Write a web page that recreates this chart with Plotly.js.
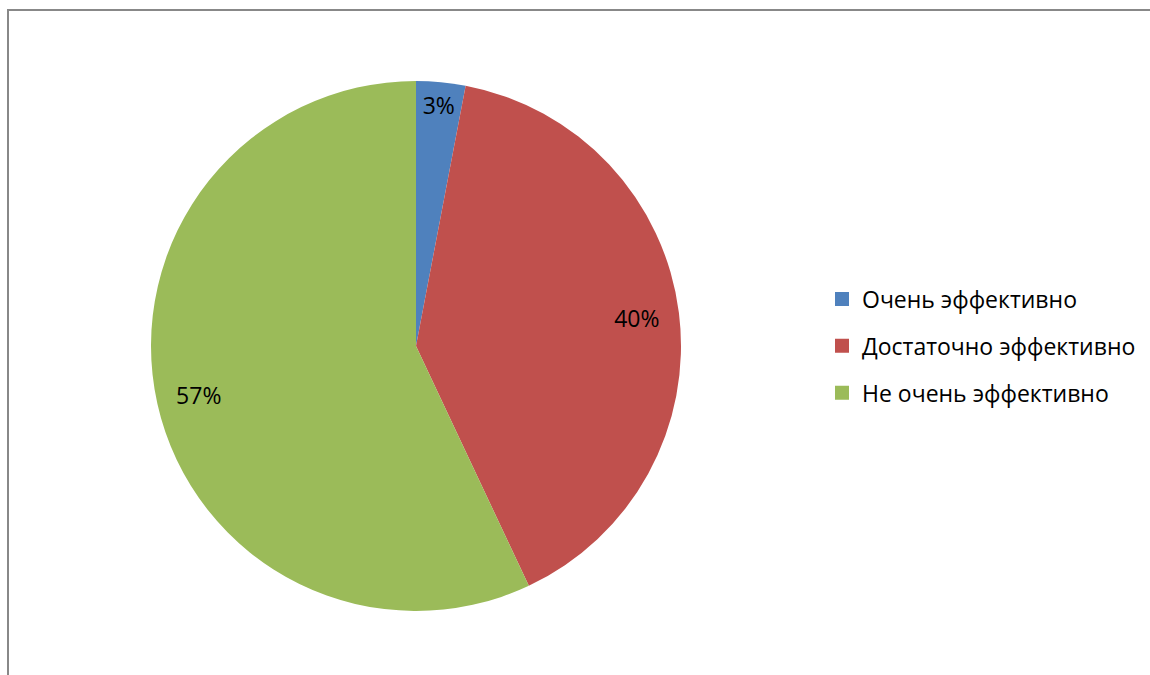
<!DOCTYPE html>
<html>
<head>
<meta charset="utf-8">
<script src="https://cdn.plot.ly/plotly-3.0.1.min.js"></script>
<style>html,body{margin:0;padding:0;background:#fff;}#chart{width:1150px;height:675px;}</style>
</head>
<body>
<div id="chart"></div>
<script>
const categories = ["Очень эффективно", "Достаточно эффективно", "Не очень эффективно"];
const values = [3, 40, 57];
const colors = ["#4F81BD", "#C0504D", "#9BBB59"];

const W = 1150, H = 675;
const FONT = "Open Sans, sans-serif";

const traces = [];
// Main pie (no text)
traces.push({
  type: "pie",
  labels: categories,
  values: values,
  sort: false,
  direction: "clockwise",
  rotation: 0,
  marker: {colors: colors, line: {color: "#ffffff", width: 0}},
  textinfo: "none",
  hoverinfo: "label+percent",
  showlegend: false,
  domain: {x: [151 / W, 681 / W], y: [(H - 611) / H, (H - 81) / H]}
});
// Transparent ring used only to place percentage labels near the rim
traces.push({
  type: "pie",
  labels: categories,
  values: values,
  sort: false,
  direction: "clockwise",
  rotation: 0,
  hole: 0.68,
  marker: {colors: ["rgba(0,0,0,0)", "rgba(0,0,0,0)", "rgba(0,0,0,0)"], line: {width: 0}},
  textinfo: "percent",
  texttemplate: "%{percent:.0%}",
  textposition: "inside",
  insidetextorientation: "horizontal",
  insidetextfont: {family: FONT, size: 23, color: "#000000"},
  hoverinfo: "skip",
  showlegend: false,
  domain: {x: [151 / W, 681 / W], y: [(H - 611) / H, (H - 81) / H]}
});
// Legend entries
categories.forEach((c, i) => {
  traces.push({
    type: "scatter",
    x: [null], y: [null],
    mode: "markers",
    name: c,
    legendgroup: "g" + i,
    marker: {symbol: "square", size: 14, color: colors[i]},
    showlegend: true,
    hoverinfo: "skip"
  });
});

const layout = {
  width: W, height: H,
  margin: {l: 0, r: 0, t: 0, b: 0},
  paper_bgcolor: "#ffffff",
  plot_bgcolor: "rgba(0,0,0,0)",
  xaxis: {visible: false, domain: [0.99, 1]},
  yaxis: {visible: false, domain: [0.99, 1]},
  showlegend: true,
  legend: {
    x: 822 / W, y: (H - 346) / H, xanchor: "left", yanchor: "middle",
    font: {family: FONT, size: 23, color: "#000000"},
    tracegroupgap: 14,
    itemwidth: 30,
    bgcolor: "rgba(0,0,0,0)"
  },
  shapes: [{
    type: "rect", xref: "paper", yref: "paper",
    x0: 8 / W, x1: 1.1, y0: -0.1, y1: (H - 10) / H,
    line: {color: "#888888", width: 2}
  }]
};

Plotly.newPlot("chart", traces, layout, {displayModeBar: false, staticPlot: true});
</script>
</body>
</html>
